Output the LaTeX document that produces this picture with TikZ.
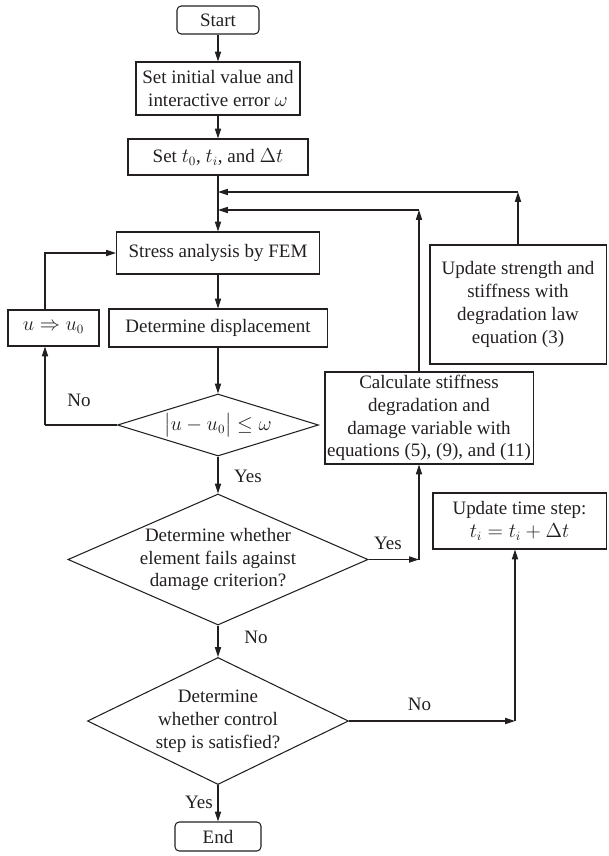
\documentclass[tikz,border=0pt]{standalone}
\usepackage{amsmath, amssymb}
\usepackage{fontspec}
\setmainfont{Liberation Serif}
\usetikzlibrary{shapes.geometric, arrows.meta}
\definecolor{ink}{HTML}{231F20}

\begin{document}
\begin{tikzpicture}[x=0.025cm, y=-0.025cm, color=ink, line width=0.75pt,
    font=\fontsize{13.5}{16.2}\selectfont,
    >={Triangle[length=7pt, width=4.4pt]},
    box/.style={draw, rectangle, inner sep=0pt, align=center},
    term/.style={box, rounded corners=3pt},
    decision/.style={draw, diamond, inner sep=0pt, align=center},
    lbl/.style={inner sep=0pt}]
    \useasboundingbox (0,0) rectangle (608,856);

    % Main column
    \node[term, minimum width=2.05cm, minimum height=0.7cm] (start) at (218,20) {Start};
    \node[box, minimum width=4.1cm, minimum height=1.325cm] (init) at (218,88.5) {Set initial value and\\interactive error $\omega$};
    \node[box, minimum width=4.5cm, minimum height=0.9cm] (sett) at (218,157) {Set $t_0$, $t_i$, and $\Delta t$};
    \node[box, minimum width=5.075cm, minimum height=1.05cm] (fem) at (218,253) {Stress analysis by FEM};
    \node[box, minimum width=5.45cm, minimum height=0.95cm] (disp) at (218,328) {Determine displacement};
    \node[decision, aspect=3.24, minimum width=5.025cm, minimum height=1.55cm] (conv) at (218,425) {$\bigl|u - u_0\bigr| \leq \omega$};
    \node[decision, aspect=2.29, minimum width=7.5cm, minimum height=3.275cm] (fail) at (218,559.5) {Determine whether\\element fails against\\damage criterion?};
    \node[decision, aspect=2.06, minimum width=6.525cm, minimum height=3.175cm] (ctrl) at (218,721) {Determine\\whether control\\step is satisfied?};
    \node[term, minimum width=2.15cm, minimum height=0.725cm] (end) at (218,836.5) {End};

    % Side boxes
    \node[box, minimum width=2.275cm, minimum height=0.9cm] (uset) at (53.5,328) {$u \Rightarrow u_0$};
    \node[box, minimum width=5.2cm, minimum height=2.3cm] (calc) at (429,418) {Calculate stiffness\\degradation and\\damage variable with\\equations (5), (9), and (11)};
    \node[box, minimum width=4.4cm, minimum height=2.975cm] (strg) at (518,304.5) {Update strength and\\stiffness with\\degradation law\\equation (3)};
    \node[box, minimum width=4.325cm, minimum height=1.4cm] (tstep) at (519.5,521) {Update time step:\\$t_i = t_i + \Delta t$};

    % Corners
    \coordinate (j1) at (218,192);
    \coordinate (j2) at (218,210);
    \coordinate (lft) at (45,425);
    \coordinate (ycor) at (419,559.5);
    \coordinate (ncor) at (515,721);

    % Labels
    \node[lbl] (no1) at (79,400) {No};
    \node[lbl] (yes1) at (248,476) {Yes};
    \node[lbl] (yes2) at (388,543) {Yes};
    \node[lbl] (no2) at (256,637) {No};
    \node[lbl] (no3) at (419.5,704) {No};
    \node[lbl] (yes3) at (199,802) {Yes};

    % Connections
    \draw[->] (start) -- (init);
    \draw[->] (init) -- (sett);
    \draw[->] (sett) -- (fem);
    \draw[->] (fem) -- (disp);
    \draw[->] (disp) -- (conv);
    \draw[->] (conv) -- (fail);
    \draw[->] (fail) -- (ctrl);
    \draw[->] (ctrl) -- (end);

    \draw (conv) -- (lft);
    \draw[->] (lft) -- (lft |- uset.south);
    \draw[->] (lft |- uset.north) |- (fem);

    \draw[->] (fail) -- (ycor);
    \draw[->] (ycor) -- (ycor |- calc.south);
    \draw[->] (ycor |- calc.north) -- (ycor |- j2);
    \draw[->] (ycor |- j2) -- (j2);

    \draw[->] (strg) -- (strg |- j1);
    \draw[->] (strg |- j1) -- (j1);

    \draw[->] (ctrl) -- (ncor);
    \draw[->] (ncor) -- (ncor |- tstep.south);
\end{tikzpicture}
\end{document}
